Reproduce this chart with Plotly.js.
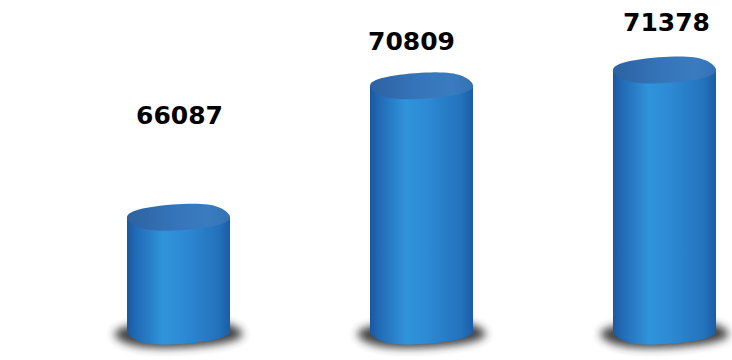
<!DOCTYPE html>
<html><head><meta charset="utf-8">
<script src="https://cdn.plot.ly/plotly-3.0.1.min.js"></script>
<style>html,body{margin:0;padding:0;background:#fff;}#chart{width:732px;height:360px;}</style>
</head><body><div id="chart"></div>
<script>
// ---- data ----
const categories = ['Category 1', 'Category 2', 'Category 3'];
const values = [66087, 70809, 71378];
const valueLabels = ['66087', '70809', '71378'];
const axisBase = 62000;
const axisRange = [60958, 73893];

// ---- label placement (styling) ----
const labelShiftX = [1, -10, 2];
const labelShiftY = [102, 44, 48];

const xIdx = categories.map((c, i) => i);
const BAR_W = 0.424;
const RX = 51.5, RY = 13.5, SKEW = 14;

// tilted-looking cap whose side tangents sit at the bar corners
function capPath(rx, ry, skew, dx, dy) {
  const n = 72; let d = '';
  for (let k = 0; k < n; k++) {
    const t = 2 * Math.PI * k / n;
    const s = Math.sin(t);
    const X = rx * Math.cos(t) + skew * s * s * s + dx;
    const Y = ry * s + dy;
    d += (k ? 'L' : 'M') + X.toFixed(2) + ',' + Y.toFixed(2);
  }
  return d + 'Z';
}

const shapes = [];
const shadowIdx = new Set(), bottomIdx = new Set(), topIdx = new Set();
xIdx.forEach((xi, i) => {
  shadowIdx.add(shapes.length);
  shapes.push({type: 'path', layer: 'below', xref: 'x', yref: 'y', xsizemode: 'pixel', ysizemode: 'pixel',
    xanchor: xi, yanchor: axisBase, path: capPath(64, 14, SKEW, 0, -3),
    fillcolor: '#2e2e2e', opacity: 0.9, line: {width: 0}});
  bottomIdx.add(shapes.length);
  shapes.push({type: 'path', layer: 'below', xref: 'x', yref: 'y', xsizemode: 'pixel', ysizemode: 'pixel',
    xanchor: xi, yanchor: axisBase, path: capPath(RX, RY, SKEW, 0, 0),
    fillcolor: '#2a80c8', line: {width: 0}});
  topIdx.add(shapes.length);
  shapes.push({type: 'path', layer: 'above', xref: 'x', yref: 'y', xsizemode: 'pixel', ysizemode: 'pixel',
    xanchor: xi, yanchor: values[i], path: capPath(RX, RY, SKEW, 0, 0),
    fillcolor: '#3572b6', line: {width: 0}});
});

const data = [{
  type: 'bar', x: xIdx, y: values.map(v => v - axisBase), base: axisBase,
  width: BAR_W, marker: {color: '#2a80c8', line: {width: 0}}, hoverinfo: 'none'
}];

const annotations = xIdx.map((xi, i) => ({
  x: xi, y: values[i], xref: 'x', yref: 'y', text: '<b>' + valueLabels[i] + '</b>', showarrow: false,
  xshift: labelShiftX[i], yshift: labelShiftY[i],
  font: {family: 'DejaVu Sans, Verdana, sans-serif', size: 25, color: '#000'}
}));

const layout = {
  width: 732, height: 360, margin: {l: 0, r: 0, t: 0, b: 0},
  paper_bgcolor: '#fff', plot_bgcolor: '#fff', showlegend: false,
  xaxis: {range: [-0.7346, 2.2778], visible: false, fixedrange: true},
  yaxis: {range: axisRange, visible: false, fixedrange: true},
  shapes: shapes, annotations: annotations
};

Plotly.newPlot('chart', data, layout, {staticPlot: true, displayModeBar: false}).then(gd => {
  const NS = 'http://www.w3.org/2000/svg';
  const svg = gd.querySelector('svg.main-svg');
  let defs = svg.querySelector('defs');
  if (!defs) { defs = document.createElementNS(NS, 'defs'); svg.insertBefore(defs, svg.firstChild); }
  function grad(id, stops) {
    const g = document.createElementNS(NS, 'linearGradient');
    g.setAttribute('id', id); g.setAttribute('x1', '0'); g.setAttribute('y1', '0');
    g.setAttribute('x2', '1'); g.setAttribute('y2', '0');
    stops.forEach(([o, c]) => { const s = document.createElementNS(NS, 'stop');
      s.setAttribute('offset', o); s.setAttribute('stop-color', c); g.appendChild(s); });
    defs.appendChild(g);
  }
  grad('bodyGrad', [[0, '#1a58a0'], [0.08, '#2169b4'], [0.35, '#3094da'], [0.55, '#2d8ad4'], [0.88, '#2373bc'], [1, '#1b5da5']]);
  grad('topGrad', [[0, '#2c62a2'], [0.45, '#3574b9'], [0.8, '#3a7bbf'], [1, '#3371b4']]);
  const f = document.createElementNS(NS, 'filter');
  f.setAttribute('id', 'shadowBlur'); f.setAttribute('x', '-50%'); f.setAttribute('y', '-150%');
  f.setAttribute('width', '200%'); f.setAttribute('height', '400%');
  const b = document.createElementNS(NS, 'feGaussianBlur'); b.setAttribute('stdDeviation', '4');
  f.appendChild(b); defs.appendChild(f);

  gd.querySelectorAll('.bars .point path').forEach(p => { p.style.fill = 'url(#bodyGrad)'; });
  gd.querySelectorAll('.shapelayer path').forEach(p => {
    const idx = +p.getAttribute('data-index');
    if (bottomIdx.has(idx)) p.style.fill = 'url(#bodyGrad)';
    if (topIdx.has(idx)) p.style.fill = 'url(#topGrad)';
    if (shadowIdx.has(idx)) p.setAttribute('filter', 'url(#shadowBlur)');
  });
});
</script>
</body></html>
